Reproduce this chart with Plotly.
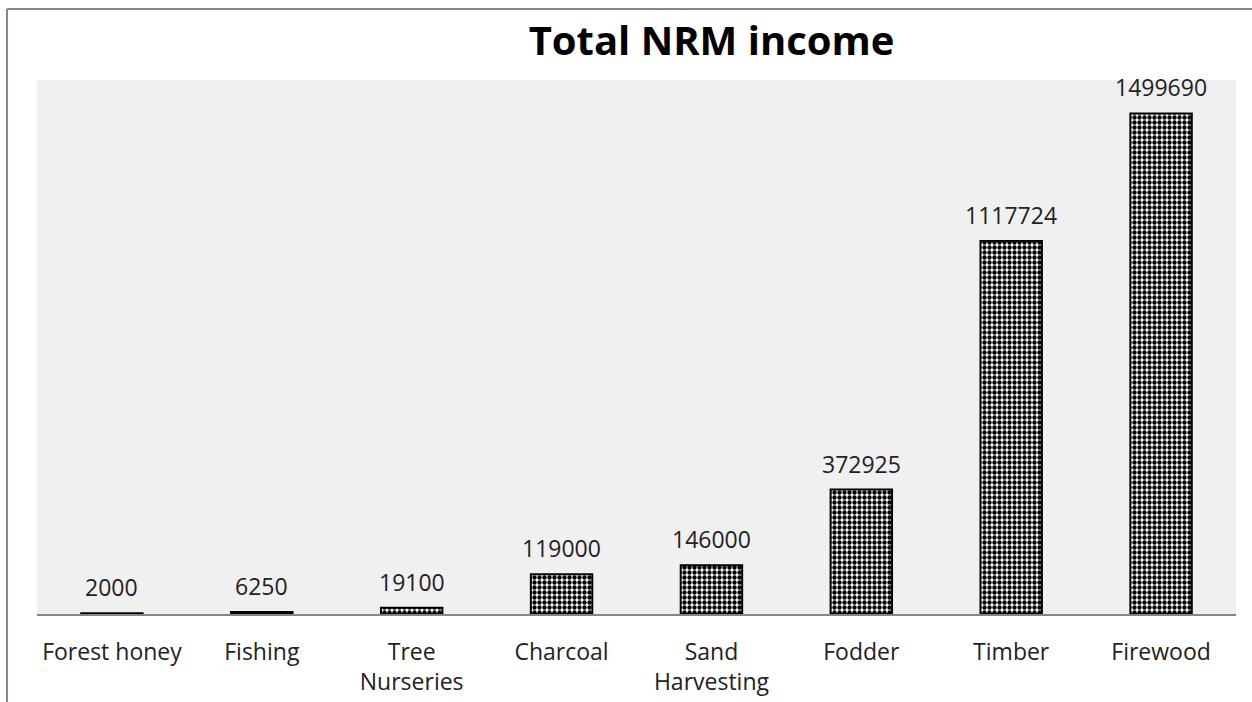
import plotly.graph_objects as go

categories = ["Forest honey", "Fishing", "Tree<br>Nurseries", "Charcoal", "Sand<br>Harvesting", "Fodder", "Timber", "Firewood"]
values = [2000, 6250, 19100, 119000, 146000, 372925, 1117724, 1499690]
labels = ["2000", "6250", "19100", "119000", "146000", "372925", "1117724", "1499690"]

FONT = "Open Sans"

fig = go.Figure()
fig.add_trace(go.Bar(
    x=categories, y=values, width=0.41,
    marker=dict(color="white", line=dict(color="black", width=2),
                pattern=dict(shape=".", fgcolor="black", bgcolor="white", size=5, solidity=0.6,
                             fgopacity=1)),
    hoverinfo="skip",
))
for c, v, t in zip(categories, values, labels):
    fig.add_annotation(x=c, y=v, text=t, showarrow=False, yanchor="bottom", yshift=8,
                       font=dict(family=FONT, size=23, color="#222"))

# outer frame (top and left edges)
fig.add_shape(type="line", xref="paper", yref="paper", x0=-0.025, x1=1.02, y0=1.133, y1=1.133,
              line=dict(color="#888888", width=2))
fig.add_shape(type="line", xref="paper", yref="paper", x0=-0.025, x1=-0.025, y0=1.133, y1=-0.2,
              line=dict(color="#888888", width=2))

fig.update_layout(
    width=1252, height=702,
    margin=dict(l=37, r=16, t=80, b=88, autoexpand=False),
    paper_bgcolor="white", plot_bgcolor="#F0F0F0",
    showlegend=False,
    title=dict(text="<b>Total NRM income</b>", xref="paper", x=0.5626, xanchor="center",
               y=0.942, yanchor="middle",
               font=dict(family=FONT, size=40, color="black")),
    xaxis=dict(showline=True, linecolor="#868686", linewidth=2, ticks="", ticklabelstandoff=16,
               automargin=False,
               tickfont=dict(family=FONT, size=23, color="#222"), showgrid=False),
    yaxis=dict(range=[0, 1600000], visible=False, showgrid=False, automargin=False),
)

fig.write_html("out.html")
